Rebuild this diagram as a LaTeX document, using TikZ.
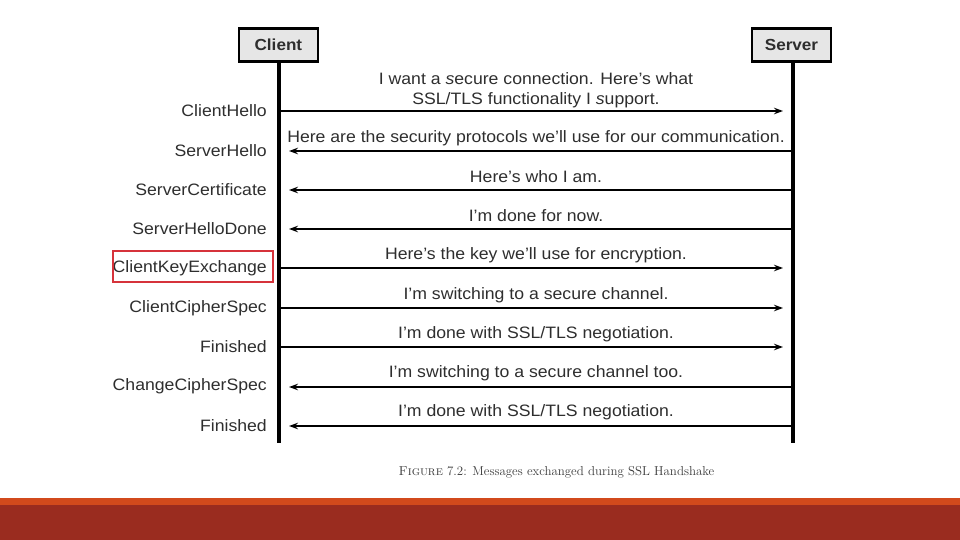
\documentclass[tikz,border=0pt]{standalone}
\usepackage{fontspec}
\newfontfamily\hv{Liberation Sans}[FakeStretch=1.07]
\usetikzlibrary{arrows.meta}
\definecolor{txt}{HTML}{2E2E2E}
\definecolor{boxfill}{HTML}{E6E6E6}
\definecolor{hlred}{HTML}{D6333B}
\definecolor{barorange}{HTML}{D24A1C}
\definecolor{barred}{HTML}{9A2C1F}
\definecolor{captxt}{HTML}{3A3A3A}
\begin{document}
\begin{tikzpicture}[x=1pt,y=-1pt,
  actor/.style={draw=black,line width=2.5pt,fill=boxfill,minimum width=79pt,minimum height=33pt,inner sep=0pt,font=\hv\fontsize{16}{18}\selectfont\bfseries,text=txt},
  life/.style={line width=4pt},
  msg/.style={line width=1.6pt,-{Stealth[length=9pt,width=6.5pt]}},
  lbl/.style={anchor=east,font=\hv\fontsize{16.5}{19}\selectfont,text=txt,inner sep=0pt},
  mtxt/.style={font=\hv\fontsize{16.5}{20}\selectfont,text=txt,align=center,inner sep=0pt},
  hlbox/.style={draw=hlred,line width=2.5pt,minimum width=160pt,minimum height=31pt,inner sep=0pt}]
\useasboundingbox (0,0) rectangle (960,540);
% bottom bars
\fill[barorange] (0,497.7) rectangle (960,505);
\fill[barred] (0,505) rectangle (960,540);
% actors
\node[actor] (client) at (278.4,45) {Client};
\node[actor] (server) at (791.5,45) {Server};
\coordinate (cb) at (279,443);
\coordinate (sb) at (793,443);
\draw[life] (client.south -| cb) -- (cb);
\draw[life] (server.south -| sb) -- (sb);
% rows
\foreach \i/\y in {1/111,2/151,3/190,4/229,5/268,6/308,7/347,8/387,9/426}{
  \coordinate (c\i) at (279,\y);
  \coordinate (s\i) at (793,\y);
}
% labels
\node[lbl] (l1) at (267,111) {ClientHello};
\node[lbl] (l2) at (267,150.5) {ServerHello};
\node[lbl] (l3) at (267,190) {ServerCertificate};
\node[lbl] (l4) at (267,229) {ServerHelloDone};
\node[lbl] (l5) at (267,268.5) {ClientKeyExchange};
\node[lbl] (l6) at (267,308) {ClientCipherSpec};
\node[lbl] (l7) at (267,347) {Finished};
\node[lbl] (l8) at (267,386.5) {ChangeCipherSpec};
\node[lbl] (l9) at (267,426) {Finished};
\node[hlbox] (hl) at (193,266.5) {};
% arrows
\draw[msg] (c1) -- ([xshift=-10pt]s1);
\draw[msg] (s2) -- ([xshift=10pt]c2);
\draw[msg] (s3) -- ([xshift=10pt]c3);
\draw[msg] (s4) -- ([xshift=10pt]c4);
\draw[msg] (c5) -- ([xshift=-10pt]s5);
\draw[msg] (c6) -- ([xshift=-10pt]s6);
\draw[msg] (c7) -- ([xshift=-10pt]s7);
\draw[msg] (s8) -- ([xshift=10pt]c8);
\draw[msg] (s9) -- ([xshift=10pt]c9);
% message texts
\node[mtxt] (m1) at (536,90) {I want a \textit{s}ecure connection. Here’s what\\SSL/TLS functionality I \textit{s}upport.};
\node[mtxt] (m2) at (536,138) {Here are the security protocols we’ll use for our communication.};
\node[mtxt] (m3) at (536,177) {Here’s who I am.};
\node[mtxt] (m4) at (536,216) {I’m done for now.};
\node[mtxt] (m5) at (536,255.5) {Here’s the key we’ll use for encryption.};
\node[mtxt] (m6) at (536,295) {I’m switching to a secure channel.};
\node[mtxt] (m7) at (536,334) {I’m done with SSL/TLS negotiation.};
\node[mtxt] (m8) at (536,373.5) {I’m switching to a secure channel too.};
\node[mtxt] (m9) at (536,412) {I’m done with SSL/TLS negotiation.};
% caption
\node[text=captxt,inner sep=0pt] (cap) at (556.5,472) {\fontsize{12.9}{14}\selectfont\textsc{Figure} 7.2: Messages exchanged during SSL Handshake};
\end{tikzpicture}
\end{document}
